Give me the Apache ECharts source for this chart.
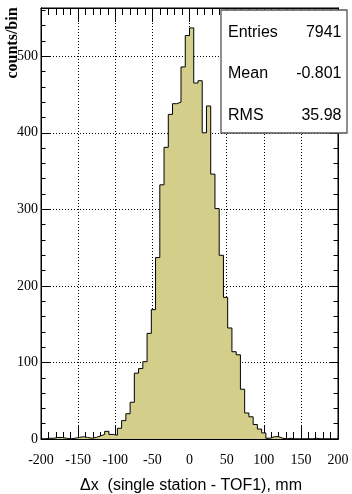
<!DOCTYPE html>
<html>
<head>
<meta charset="utf-8">
<script src="https://cdn.jsdelivr.net/npm/echarts@6/dist/echarts.min.js"></script>
<style>
  html, body { margin: 0; padding: 0; background: #fff; }
  #chart { width: 352px; height: 494px; }
</style>
</head>
<body>
<div id="chart"></div>
<script>
// Histogram binning: 70 equal bins over [-200, 200] mm
const xMin = -200;
const xMax = 200;
const nBins = 70;

// Counts per bin, left to right
const counts = [
  0, 1, 1, 2, 2, 1, 0, 1, 2, 3,
  2, 1, 2, 4, 6, 10, 6, 5, 14, 24,
  33, 48, 86, 92, 101, 138, 169, 237, 332, 381,
  424, 438, 440, 486, 527, 537, 465, 468, 400, 435,
  346, 301, 240, 185, 145, 114, 110, 65, 34, 29,
  19, 13, 8, 1, 3, 3, 1, 0, 1, 0,
  0, 0, 0, 0, 1, 0, 0, 0, 0, 0
];

// Axis ranges and tick steps
const yMax = 563;
const xMajorStep = 50;
const yMajorStep = 100;
const yMinorStep = 20;

// Statistics box
const statLabels = ['Entries', 'Mean', 'RMS'];
const statValues = ['7941', '-0.801', '35.98'];

const xTitle = '\u0394x  (single station - TOF1), mm';
const yTitle = 'counts/bin';

const serif = '"Liberation Serif", "DejaVu Serif", serif';
const sans = '"Liberation Sans", Arial, sans-serif';

const binWidth = (xMax - xMin) / nBins;
const stepData = counts.map((c, k) => [xMin + k * binWidth, c]);
stepData.push([xMax, 0]);

const black = { color: '#000', width: 1 };
const dotted = { show: true, lineStyle: { color: '#000', width: 1, type: [1, 2] } };

function xAxisDef(position, withLabels) {
  return {
    type: 'value', position: position, min: xMin, max: xMax, interval: xMajorStep,
    axisLine: { show: true, onZero: false, lineStyle: black },
    axisTick: { show: true, inside: true, length: 14, lineStyle: black },
    minorTick: { show: true, splitNumber: 5, length: 7, lineStyle: black },
    axisLabel: withLabels
      ? { show: true, color: '#000', fontFamily: serif, fontSize: 14, margin: 14,
          showMinLabel: true, showMaxLabel: true }
      : { show: false },
    splitLine: withLabels ? dotted : { show: false }
  };
}

function yAxisDef(position, step, tickLen, withLabels) {
  return {
    type: 'value', position: position, min: 0, max: yMax, interval: step,
    axisLine: { show: true, onZero: false, lineStyle: black },
    axisTick: { show: true, inside: true, length: tickLen, lineStyle: black },
    axisLabel: withLabels
      ? { show: true, color: '#000', fontFamily: serif, fontSize: 14, margin: 3,
          formatter: v => (v % yMajorStep === 0 ? String(v) : '') }
      : { show: false },
    splitLine: withLabels ? dotted : { show: false }
  };
}

const chart = echarts.init(document.getElementById('chart'), null, { renderer: 'canvas' });

// Statistics box in the upper right corner
const statGraphics = [];
statGraphics.push({
  type: 'rect', z: 100,
  shape: { x: 221, y: 10, width: 126, height: 123 },
  style: { fill: '#fff', stroke: '#555', lineWidth: 1.3 }
});
const statRowY = [32.5, 74, 116];
statLabels.forEach((lab, i) => {
  statGraphics.push({
    type: 'text', z: 101, x: 228, y: statRowY[i],
    style: { text: lab, fill: '#000', font: '16px ' + sans, textAlign: 'left', textVerticalAlign: 'middle' }
  });
  statGraphics.push({
    type: 'text', z: 101, x: 341.5, y: statRowY[i],
    style: { text: statValues[i], fill: '#000', font: '16px ' + sans, textAlign: 'right', textVerticalAlign: 'middle' }
  });
});

chart.setOption({
  animation: false,
  backgroundColor: '#fff',
  grid: { left: 41, right: 14, top: 8, bottom: 55, show: true, borderColor: '#000', borderWidth: 1, backgroundColor: 'transparent' },
  xAxis: [xAxisDef('bottom', true), xAxisDef('top', false)],
  yAxis: [
    yAxisDef('left', yMajorStep, 9, true),
    yAxisDef('right', yMajorStep, 9, false),
    yAxisDef('left', yMinorStep, 4.5, false),
    yAxisDef('right', yMinorStep, 4.5, false)
  ],
  series: [{
    type: 'line',
    xAxisIndex: 0, yAxisIndex: 0,
    step: 'end',
    symbol: 'none',
    z: 3,
    lineStyle: { color: '#000', width: 1 },
    areaStyle: { color: '#d3cf8b', opacity: 1 },
    data: stepData
  }],
  graphic: statGraphics.concat([
    {
      type: 'text', x: 191, y: 486,
      style: { text: xTitle, fill: '#000', font: '16px ' + sans, textAlign: 'center', textVerticalAlign: 'middle' }
    },
    {
      type: 'text', x: 13, y: 43, rotation: Math.PI / 2,
      style: { text: yTitle, fill: '#000', font: 'bold 16px ' + serif, textAlign: 'center', textVerticalAlign: 'middle' }
    }
  ])
});
</script>
</body>
</html>
